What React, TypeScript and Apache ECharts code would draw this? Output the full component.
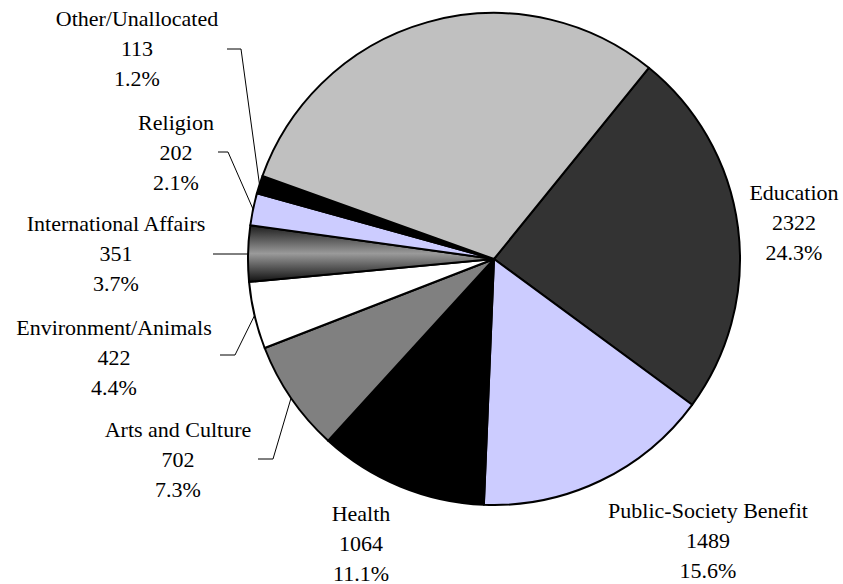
import React, { useEffect, useRef } from "react";
import * as echarts from "echarts";

const categories = [
  "Education",
  "Public-Society Benefit",
  "Health",
  "Arts and Culture",
  "Environment/Animals",
  "International Affairs",
  "Religion",
  "Other/Unallocated",
  "Human Services",
];
const values = [2322, 1489, 1064, 702, 422, 351, 202, 113, 2905];

const intlGradient = new echarts.graphic.LinearGradient(0, 0, 0, 1, [
  { offset: 0, color: "#1c1c1c" },
  { offset: 0.5, color: "#9a9a9a" },
  { offset: 1, color: "#111111" },
]);
const colors: any[] = [
  "#333333",
  "#CCCCFF",
  "#000000",
  "#808080",
  "#FFFFFF",
  intlGradient,
  "#CCCCFF",
  "#000000",
  "#C0C0C0",
];

// label placement (text block centre x, top y) and leader-line bends
const labelPlacement: Record<string, any> = {
  "Education": { x: 794, y: 177 },
  "Public-Society Benefit": { x: 708, y: 495 },
  "Health": { x: 361, y: 498 },
  "Arts and Culture": { x: 178, y: 414, bend: [273, 459], end: [258, 459] },
  "Environment/Animals": { x: 114, y: 312, bend: [235, 355], end: [220, 355] },
  "International Affairs": { x: 116, y: 208, straight: true, end: [213, 254] },
  "Religion": { x: 176, y: 107, bend: [228, 152], end: [218, 152] },
  "Other/Unallocated": { x: 137, y: 3, bend: [241, 49], end: [227, 49] },
  "Human Services": { x: 465, y: 97 },
};

const CENTER = [494, 259];
const RADIUS = 246;
const START_ANGLE = 51;
const FONT = "22px Liberation Serif";

export default function App() {
  const ref = useRef<HTMLDivElement>(null);
  useEffect(() => {
    if (!ref.current) return;
    const chart = echarts.init(ref.current, undefined, { renderer: "svg" });
    const total = values.reduce((a, b) => a + b, 0);
    const data = categories.map((name, i) => ({
      name,
      value: values[i],
      itemStyle: { color: colors[i] },
    }));

    const graphics: any[] = [];
    let cum = 0;
    categories.forEach((name, i) => {
      const v = values[i];
      const mid = START_ANGLE - ((cum + v / 2) / total) * 360;
      cum += v;
      const rad = (mid * Math.PI) / 180;
      const edge = [
        CENTER[0] + RADIUS * Math.cos(rad),
        CENTER[1] - RADIUS * Math.sin(rad),
      ];
      const p = labelPlacement[name];
      graphics.push({
        type: "text",
        x: p.x,
        y: p.y,
        silent: true,
        style: {
          text: `${name}\n${v}\n${((v / total) * 100).toFixed(1)}%`,
          font: FONT,
          fill: "#000000",
          lineHeight: 30,
          align: "center",
          verticalAlign: "top",
          textAlign: "center",
          textVerticalAlign: "top",
        },
      });
      if (p.end) {
        const pts = p.straight
          ? [[edge[0], p.end[1]], p.end]
          : [edge, p.bend, p.end];
        graphics.push({
          type: "polyline",
          silent: true,
          shape: { points: pts },
          style: { stroke: "#000000", lineWidth: 1, fill: null },
        });
      }
    });

    chart.setOption({
      animation: false,
      backgroundColor: "#ffffff",
      graphic: graphics,
      series: [
        {
          type: "pie",
          center: CENTER,
          radius: RADIUS,
          startAngle: START_ANGLE,
          clockwise: true,
          silent: true,
          itemStyle: { borderColor: "#000000", borderWidth: 2 },
          label: { show: false },
          labelLine: { show: false },
          data,
        },
      ],
    });
    return () => chart.dispose();
  }, []);
  return (
    <div
      ref={ref}
      style={{ position: "absolute", left: 0, top: 0, width: 843, height: 584 }}
    />
  );
}
